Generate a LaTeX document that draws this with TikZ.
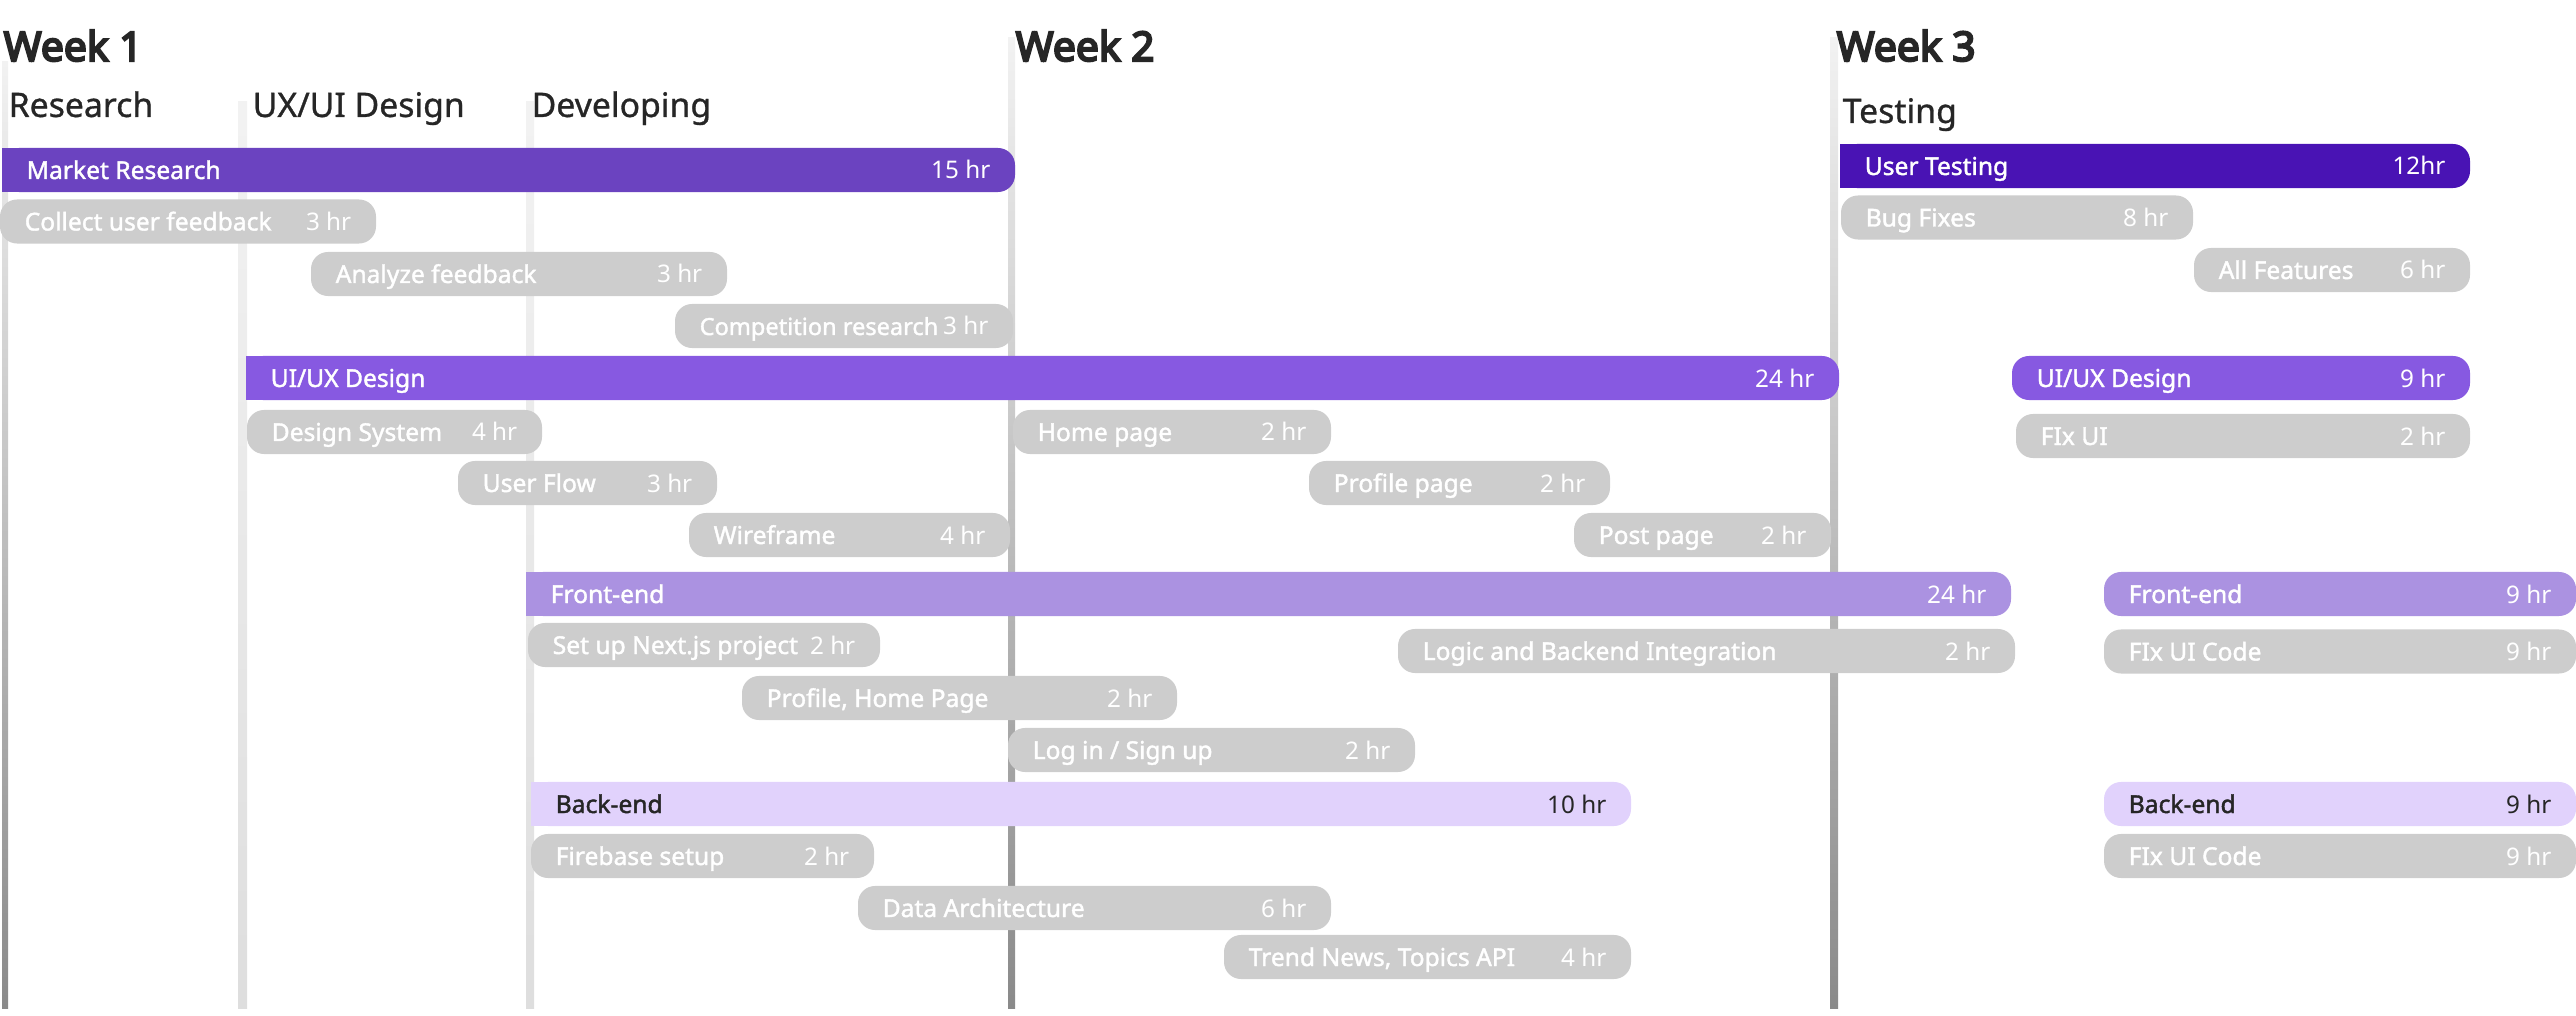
\documentclass[tikz,border=0pt]{standalone}
\usepackage{fontspec}
\setmainfont{Noto Sans}
\newfontfamily\weekfont{Noto Sans}[FakeBold=5]
\newfontfamily\phasefont{Noto Sans}[FakeBold=0.9]
\newfontfamily\namefont{Noto Sans}[FakeBold=1.6]
\usepackage{tikz}

\definecolor{ink}{HTML}{262626}
\definecolor{researchC}{HTML}{6B43C0}
\definecolor{designC}{HTML}{8759E1}
\definecolor{frontC}{HTML}{AB92E1}
\definecolor{backC}{HTML}{E1D2FC}
\definecolor{testC}{HTML}{4913B4}
\definecolor{taskgray}{HTML}{CDCDCD}
\definecolor{rulelight}{HTML}{F2F2F2}
\definecolor{ruledark}{HTML}{8A8A8A}

\newcommand{\taskbar}[8]{%
  \node[bar,fill=#2,minimum width={(#5-#4)*0.01cm}] (#1) at ({(#4+#5)/2},#6) {};
  \node[tname,text=#3] (#1-name) at ([xshift=0.24cm,yshift=-0.09cm]#1.west) {#7};
  \node[thours,text=#3] (#1-hr) at ([xshift=-0.24cm,yshift=-0.09cm]#1.east) {#8};}
\newcommand{\phasebar}[8]{%
  \taskbar{#1}{#2}{#3}{#4}{#5}{#6}{#7}{#8}
  \fill[#2] (#1.north west) rectangle ([xshift=0.2cm]#1.south west);}

\begin{document}
\begin{tikzpicture}[
  x=0.01cm, y=-0.01cm,
  bar/.style={rectangle,rounded corners=0.17cm,minimum height=0.44cm,inner sep=0pt,outer sep=0pt},
  tname/.style={anchor=base west,inner sep=0pt,font=\namefont\fontsize{7}{8}\selectfont},
  thours/.style={anchor=base east,inner sep=0pt,font=\fontsize{6.9}{8}\selectfont},
  week/.style={anchor=base west,inner sep=0pt,text=ink,font=\weekfont\fontsize{11.6}{13}\selectfont},
  phase/.style={anchor=base west,inner sep=0pt,text=ink,font=\phasefont\fontsize{9.6}{11}\selectfont}
]
  \useasboundingbox (0,0) rectangle (2576,1016);

  \shade[top color=rulelight,bottom color=ruledark] (2,62) rectangle (8,1008);
  \shade[top color=rulelight,bottom color=ruledark] (1008,38) rectangle (1015,1008);
  \shade[top color=rulelight,bottom color=ruledark] (1830,38) rectangle (1838,1008);
  \shade[top color=black!5,bottom color=black!13] (238,102) rectangle (247,1008);
  \shade[top color=black!5,bottom color=black!13] (526,102) rectangle (534,1008);

  \node[week]  (week1) at (3,61)    {Week 1};
  \node[week]  (week2) at (1015,61) {Week 2};
  \node[week]  (week3) at (1836,61) {Week 3};
  \node[phase] (research) at (8,117)    {Research};
  \node[phase] (uxui)     at (252,117)  {UX/UI Design};
  \node[phase] (dev)      at (531,117)  {Developing};
  \node[phase] (testing)  at (1842,123) {Testing};

  \phasebar{market}{researchC}{white}{2}{1015}{170}{Market Research}{15 hr}
  \taskbar{collect}{taskgray}{white}{0}{376}{221.5}{Collect user feedback}{3 hr}
  \taskbar{analyze}{taskgray}{white}{311}{727}{274}{Analyze feedback}{3 hr}
  \taskbar{compete}{taskgray}{white}{675}{1013}{326}{\fontsize{6.7}{8}\selectfont Competition research}{3 hr}

  \phasebar{design}{designC}{white}{246}{1839}{378}{UI/UX Design}{24 hr}
  \taskbar{dsys}{taskgray}{white}{247}{542}{432}{Design System}{4 hr}
  \taskbar{flow}{taskgray}{white}{458}{717}{483}{User Flow}{3 hr}
  \taskbar{wire}{taskgray}{white}{689}{1010}{535}{Wireframe}{4 hr}
  \taskbar{home}{taskgray}{white}{1013}{1331}{432}{Home page}{2 hr}
  \taskbar{profile}{taskgray}{white}{1309}{1610}{483}{Profile page}{2 hr}
  \taskbar{post}{taskgray}{white}{1574}{1831}{535}{Post page}{2 hr}

  \phasebar{front}{frontC}{white}{526}{2011}{594}{Front-end}{24 hr}
  \taskbar{nextjs}{taskgray}{white}{528}{880}{645}{Set up Next.js project}{2 hr}
  \taskbar{logic}{taskgray}{white}{1398}{2015}{651}{Logic and Backend Integration}{2 hr}
  \taskbar{pages}{taskgray}{white}{742}{1177}{698}{Profile, Home Page}{2 hr}
  \taskbar{login}{taskgray}{white}{1008}{1415}{750}{Log in / Sign up}{2 hr}

  \phasebar{back}{backC}{ink}{531}{1631}{804}{Back-end}{10 hr}
  \taskbar{firebase}{taskgray}{white}{531}{874}{856}{Firebase setup}{2 hr}
  \taskbar{data}{taskgray}{white}{858}{1331}{908}{Data Architecture}{6 hr}
  \taskbar{trend}{taskgray}{white}{1224}{1631}{957}{Trend News, Topics API}{4 hr}

  \phasebar{usertest}{testC}{white}{1840}{2470}{166}{User Testing}{12hr}
  \taskbar{bugs}{taskgray}{white}{1841}{2193}{217.5}{Bug Fixes}{8 hr}
  \taskbar{features}{taskgray}{white}{2194}{2470}{270}{All Features}{6 hr}
  \taskbar{design3}{designC}{white}{2012}{2470}{378}{UI/UX Design}{9 hr}
  \taskbar{fixui}{taskgray}{white}{2016}{2470}{436}{FIx UI}{2 hr}
  \taskbar{front3}{frontC}{white}{2104}{2576}{594}{Front-end}{9 hr}
  \taskbar{fixcode}{taskgray}{white}{2104}{2576}{651.5}{FIx UI Code}{9 hr}
  \taskbar{back3}{backC}{ink}{2104}{2576}{804}{Back-end}{9 hr}
  \taskbar{fixcode2}{taskgray}{white}{2104}{2576}{856}{FIx UI Code}{9 hr}
\end{tikzpicture}
\end{document}
